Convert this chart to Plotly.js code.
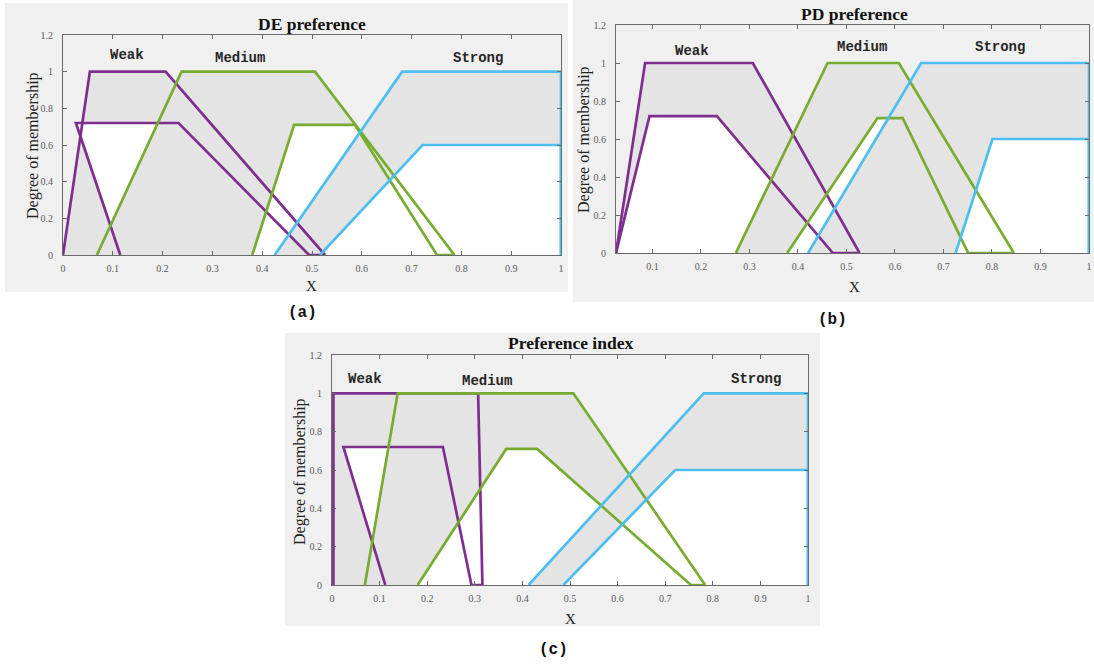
<!DOCTYPE html>
<html>
<head>
<meta charset="utf-8">
<script src="https://cdn.plot.ly/plotly-3.0.1.min.js"></script>
<style>
  html, body { margin: 0; padding: 0; background: #ffffff; }
  #chart { width: 1094px; height: 664px; }
</style>
</head>
<body>
<div id="chart"></div>
<script>
// Interval type-2 membership functions: upper (UMF) and lower (LMF) corner points.

// DE preference
const deWeakUpperX = [0, 0.054, 0.206, 0.526];
const deWeakUpperY = [0, 1, 1, 0];
const deWeakLowerX = [0.115, 0.026, 0.232, 0.494, 0.526];
const deWeakLowerY = [0, 0.72, 0.72, 0, 0];
const deMediumUpperX = [0.068, 0.238, 0.506, 0.786];
const deMediumUpperY = [0, 1, 1, 0];
const deMediumLowerX = [0.38, 0.464, 0.586, 0.751, 0.786];
const deMediumLowerY = [0, 0.71, 0.71, 0, 0];
const deStrongUpperX = [0.425, 0.681, 1, 1];
const deStrongUpperY = [0, 1, 1, 0];
const deStrongLowerX = [0.516, 0.722, 1, 1];
const deStrongLowerY = [0, 0.6, 0.6, 0];

// PD preference
const pdWeakUpperX = [0.025, 0.085, 0.307, 0.527];
const pdWeakUpperY = [0, 1, 1, 0];
const pdWeakLowerX = [0.025, 0.094, 0.233, 0.472, 0.527];
const pdWeakLowerY = [0, 0.72, 0.72, 0, 0];
const pdMediumUpperX = [0.272, 0.461, 0.608, 0.845];
const pdMediumUpperY = [0, 1, 1, 0];
const pdMediumLowerX = [0.378, 0.564, 0.616, 0.751, 0.845];
const pdMediumLowerY = [0, 0.71, 0.71, 0, 0];
const pdStrongUpperX = [0.421, 0.654, 1, 1];
const pdStrongUpperY = [0, 1, 1, 0];
const pdStrongLowerX = [0.725, 0.801, 1, 1];
const pdStrongLowerY = [0, 0.6, 0.6, 0];

// Preference index
const piWeakUpperX = [0.003, 0.003, 0.307, 0.316];
const piWeakUpperY = [0, 1, 1, 0];
const piWeakLowerX = [0.112, 0.024, 0.233, 0.293, 0.316];
const piWeakLowerY = [0, 0.72, 0.72, 0, 0];
const piMediumUpperX = [0.069, 0.138, 0.507, 0.784];
const piMediumUpperY = [0, 1, 1, 0];
const piMediumLowerX = [0.18, 0.366, 0.431, 0.754, 0.784];
const piMediumLowerY = [0, 0.71, 0.71, 0, 0];
const piStrongUpperX = [0.413, 0.781, 1, 1];
const piStrongUpperY = [0, 1, 1, 0];
const piStrongLowerX = [0.486, 0.721, 1, 1];
const piStrongLowerY = [0, 0.6, 0.6, 0];

// Linguistic term labels and their positions
const setNames = ['Weak', 'Medium', 'Strong'];
const deLabelX = [0.128, 0.355, 0.833];
const deLabelY = [1.09, 1.073, 1.073];
const pdLabelX = [0.182, 0.533, 0.817];
const pdLabelY = [1.065, 1.082, 1.086];
const piLabelX = [0.069, 0.326, 0.891];
const piLabelY = [1.076, 1.064, 1.076];

// Axis ticks
const xTickVals = [0, 0.1, 0.2, 0.3, 0.4, 0.5, 0.6, 0.7, 0.8, 0.9, 1];
const xTickText = ['0', '0.1', '0.2', '0.3', '0.4', '0.5', '0.6', '0.7', '0.8', '0.9', '1'];
const yTickVals = [0, 0.2, 0.4, 0.6, 0.8, 1, 1.2];
const yTickText = ['0', '0.2', '0.4', '0.6', '0.8', '1', '1.2'];

const panelTitles = ['DE preference', 'PD preference', 'Preference index'];
const panelTags = ['(a)', '(b)', '(c)'];

const setColors = ['#7E2F8E', '#77AC30', '#4DBEEE'];
const bandGray = '#e4e4e4';

const panels = [
  { xa: 'x', ya: 'y', sets: [
      [deWeakUpperX, deWeakUpperY, deWeakLowerX, deWeakLowerY],
      [deMediumUpperX, deMediumUpperY, deMediumLowerX, deMediumLowerY],
      [deStrongUpperX, deStrongUpperY, deStrongLowerX, deStrongLowerY]],
    labelX: deLabelX, labelY: deLabelY },
  { xa: 'x2', ya: 'y2', sets: [
      [pdWeakUpperX, pdWeakUpperY, pdWeakLowerX, pdWeakLowerY],
      [pdMediumUpperX, pdMediumUpperY, pdMediumLowerX, pdMediumLowerY],
      [pdStrongUpperX, pdStrongUpperY, pdStrongLowerX, pdStrongLowerY]],
    labelX: pdLabelX, labelY: pdLabelY },
  { xa: 'x3', ya: 'y3', sets: [
      [piWeakUpperX, piWeakUpperY, piWeakLowerX, piWeakLowerY],
      [piMediumUpperX, piMediumUpperY, piMediumLowerX, piMediumLowerY],
      [piStrongUpperX, piStrongUpperY, piStrongLowerX, piStrongLowerY]],
    labelX: piLabelX, labelY: piLabelY }
];

const traces = [];
const annotations = [];

panels.forEach(function (p) {
  // footprint of uncertainty: gray under the UMF, then white under the LMF
  p.sets.forEach(function (s) {
    traces.push({ x: s[0], y: s[1], xaxis: p.xa, yaxis: p.ya, type: 'scatter',
      mode: 'lines', line: { width: 0 }, fill: 'toself', fillcolor: bandGray, hoverinfo: 'skip' });
    traces.push({ x: s[2], y: s[3], xaxis: p.xa, yaxis: p.ya, type: 'scatter',
      mode: 'lines', line: { width: 0 }, fill: 'toself', fillcolor: '#ffffff', hoverinfo: 'skip' });
  });
  // outlines on top of all fills
  p.sets.forEach(function (s, i) {
    traces.push({ x: s[0], y: s[1], xaxis: p.xa, yaxis: p.ya, type: 'scatter',
      mode: 'lines', line: { color: setColors[i], width: 2.7 }, hoverinfo: 'skip' });
    traces.push({ x: s[2], y: s[3], xaxis: p.xa, yaxis: p.ya, type: 'scatter',
      mode: 'lines', line: { color: setColors[i], width: 2.7 }, hoverinfo: 'skip' });
  });
  setNames.forEach(function (name, i) {
    annotations.push({ text: name, x: p.labelX[i], y: p.labelY[i], xref: p.xa, yref: p.ya,
      showarrow: false, xanchor: 'center', yanchor: 'middle',
      font: { family: 'Courier New, Liberation Mono, monospace', size: 14, weight: 'bold', color: '#262626' } });
  });
});

const W = 1094, H = 664;
function px(v) { return v / W; }
function py(v) { return 1 - v / H; }

function paperText(text, x, y, font, angle) {
  annotations.push({ text: text, x: px(x), y: py(y), xref: 'paper', yref: 'paper',
    showarrow: false, xanchor: 'center', yanchor: 'middle', textangle: angle || 0, font: font });
}

const serif = 'Liberation Serif, Times New Roman, serif';
const titleFont = { family: serif, size: 17.5, weight: 'bold', color: '#111111' };
const axisTitleFont = { family: serif, size: 16, color: '#222222' };
const xTitleFont = { family: serif, size: 15, color: '#222222' };
const tagFont = { family: 'Courier New, Liberation Mono, monospace', size: 16, weight: 'bold', color: '#111111' };

// panel titles, axis titles and sub-figure tags
paperText(panelTitles[0], 312, 24, titleFont);
paperText(panelTitles[1], 854, 14, titleFont);
paperText(panelTitles[2], 570, 343, titleFont);

paperText('Degree of membership', 33, 146, axisTitleFont, -90);
paperText('Degree of membership', 584, 140, axisTitleFont, -90);
paperText('Degree of membership', 300, 472, axisTitleFont, -90);

paperText('X', 312, 286, xTitleFont);
paperText('X', 854, 287, xTitleFont);
paperText('X', 570, 619, xTitleFont);

paperText(panelTags[0], 302, 313, tagFont);
paperText(panelTags[1], 832, 320, tagFont);
paperText(panelTags[2], 554, 650, tagFont);

function axisStyle(extra) {
  const base = {
    showline: true, linecolor: '#6a6a6a', linewidth: 1, mirror: 'allticks',
    ticks: 'inside', ticklen: 4, tickwidth: 1, tickcolor: '#6a6a6a',
    showgrid: false, zeroline: false, fixedrange: true,
    tickfont: { family: serif, size: 10, color: '#5a5a5a' }
  };
  return Object.assign(base, extra);
}

function xAxis(domain, range, anchor) {
  return axisStyle({ domain: domain, range: range, anchor: anchor,
    tickmode: 'array', tickvals: xTickVals, ticktext: xTickText, ticklabelstandoff: 4,
    ticklabeloverflow: 'allow' });
}
function yAxis(domain, anchor) {
  return axisStyle({ domain: domain, range: [0, 1.2], anchor: anchor,
    tickmode: 'array', tickvals: yTickVals, ticktext: yTickText, ticklabelstandoff: 7 });
}

const layout = {
  width: W, height: H,
  margin: { l: 0, r: 0, t: 0, b: 0 },
  paper_bgcolor: '#ffffff', plot_bgcolor: '#ffffff',
  showlegend: false,
  xaxis: xAxis([px(63), px(561)], [0, 1], 'y'),
  yaxis: yAxis([py(255), py(35)], 'x'),
  xaxis2: xAxis([px(616), px(1089)], [0.025, 1], 'y2'),
  yaxis2: yAxis([py(253), py(25)], 'x2'),
  xaxis3: xAxis([px(332), px(808)], [0, 1], 'y3'),
  yaxis3: yAxis([py(585), py(355)], 'x3'),
  shapes: [
    { type: 'rect', xref: 'paper', yref: 'paper', layer: 'below', line: { width: 0 },
      fillcolor: '#f0f0f0', x0: px(5), x1: px(568), y0: py(292), y1: py(3) },
    { type: 'rect', xref: 'paper', yref: 'paper', layer: 'below', line: { width: 0 },
      fillcolor: '#f0f0f0', x0: px(573), x1: 1, y0: py(302), y1: 1 },
    { type: 'rect', xref: 'paper', yref: 'paper', layer: 'below', line: { width: 0 },
      fillcolor: '#f0f0f0', x0: px(285), x1: px(820), y0: py(626), y1: py(333) }
  ],
  annotations: annotations
};

Plotly.newPlot('chart', traces, layout, { staticPlot: true, displayModeBar: false });
</script>
</body>
</html>
